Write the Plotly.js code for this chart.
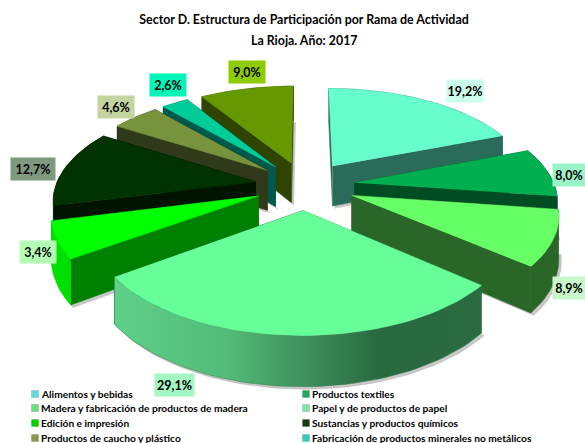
<!DOCTYPE html>
<html><head><meta charset="utf-8">
<script src="https://cdn.plot.ly/plotly-3.0.1.min.js"></script>
<style>html,body{margin:0;padding:0;background:#fff;overflow:hidden}</style>
</head><body><div id="chart" style="width:585px;height:443px"></div>
<script>
// Data. The printed label for "Edición" says 3,4 % but its slice is drawn as 5,9 % (the shares total 100).
const categories = ["Alimentos y bebidas","Productos textiles","Madera y fabricación de productos de madera","Papel y de productos de papel","Edición e impresión","Sustancias y productos químicos","Productos de caucho y plástico","Fabricación de productos minerales no metálicos","Otros"];
const drawnShares = [19.2,8.0,8.9,29.1,5.9,12.7,4.6,2.6,9.0];
const printedLabels = ["19,2%","8,0%","8,9%","29,1%","3,4%","12,7%","4,6%","2,6%","9,0%"];
const topColors  = ["#66FFCC","#00B050","#66FF66","#66FF99","#00FF00","#003300","#77933C","#00CC99","#669900"];
const wallColors = ["#2A6B59","#004D23","#2B6629","#2F7A4C","#008000","#001400","#30391A","#00594A","#2F4400"];
const arcColors  = ["#2A6B59","#004D23","#2B6629","#2F7A4C","#00E000","#001400","#30391A","#00594A","#2F4400"];
const labelBoxColors = ["#CCFFEB","#99F5C8","#C9F7C9","#A3F7C2","#B3FFB3","#7F997F","#C4D3A0","#00F5B8","#8CCC00"];
const legendColors = ["#66D9D9","#1FA85C","#66E07A","#7FE6A8","#00D000","#123D12","#8A9A4A","#33CCBB"];
const drawOrder = [8,7,6,0,5,1,4,2,3];

// Layout constants
const W=585,H=443,CX=305,CY=185.5,RX=200,RY=96,PERSP=0.16,PULL=0.25,DEPTH=41;
const labelPos=[[465,91],[569,175],[569,288],[174,385],[38,252],[33,169],[116,107],[168,85],[247,72]];
const labelSize=[[36,22],[32,22],[32,22],[39,22],[36,22],[44,22],[36,22],[36,22],[36,22]];
const legendCols=[35,306], legendRows=[394,408,423,438];

const total=drawnShares.reduce((a,b)=>a+b,0);
function proj(X,Y,drop){const p=1/(1+PERSP*Y);return [CX+RX*X*p, CY-RY*Y*p+drop*DEPTH*p];}
const deg=Math.PI/180;
let cum=0;
const slices=drawnShares.map(v=>{const a=cum/total*360;cum+=v;return {a0:a,a1:cum/total*360};});
function pts(i,drop){
  const s=slices[i],b=(s.a0+s.a1)/2*deg;
  const ox=PULL*Math.sin(b),oy=PULL*Math.cos(b);
  const arc=[];const n=Math.max(6,Math.round((s.a1-s.a0)/2));
  for(let k=0;k<=n;k++){const t=(s.a0+(s.a1-s.a0)*k/n)*deg;arc.push(proj(ox+Math.sin(t),oy+Math.cos(t),drop));}
  return {apex:proj(ox,oy,drop),arc};
}
function poly(list,extra){const dx=extra?extra[0]:0,dy=extra?extra[1]:0;return{x:list.map(p=>p&&p[0]+dx),y:list.map(p=>p&&p[1]+dy)};}
function fillTrace(list,color,name,off,more){
  const d=poly(list,off);
  return Object.assign({type:"scatter",mode:"lines",x:d.x,y:d.y,fill:"toself",fillcolor:color,line:{color:color,width:0.5},hoverinfo:"skip",showlegend:false,name:name},more||{});
}
const traces=[];
drawOrder.forEach(i=>{
  const t=pts(i,0),b=pts(i,1),name=categories[i];
  const tA=t.arc,bA=b.arc,last=tA.length-1;
  const arcWall=[...tA,...bA.slice().reverse()];
  traces.push(fillTrace([b.apex,...bA],"rgba(60,60,60,0.28)",name+" sombra",[2.5,2.5]));
  traces.push(fillTrace([t.apex,tA[0],bA[0],b.apex],wallColors[i],name+" pared"));
  traces.push(fillTrace([t.apex,tA[last],bA[last],b.apex],wallColors[i],name+" pared"));
  const more = i===3 ? {fillgradient:{type:"horizontal",start:117,stop:482,colorscale:[[0,"#5ED088"],[0.3,"#52BC78"],[0.55,"#3A8A58"],[0.72,"#28693F"],[1,"#2A6B42"]]}} : null;
  traces.push(fillTrace(arcWall,arcColors[i],name+" borde",null,more));
  traces.push(fillTrace([t.apex,...tA],topColors[i],name));
});
// legend swatches
const lx=[],ly=[];
legendColors.forEach((c,i)=>{lx.push(legendCols[i%2]);ly.push(legendRows[Math.floor(i/2)]);});
traces.push({type:"scatter",mode:"markers",x:lx,y:ly,marker:{symbol:"square",size:7,color:legendColors,line:{width:0.5,color:"rgba(0,0,0,0.25)"}},hoverinfo:"skip",showlegend:false,cliponaxis:false});

const annotations=[];
printedLabels.forEach((t,i)=>annotations.push({text:"<b>"+t+"</b>",x:labelPos[i][0],y:labelPos[i][1],xref:"x",yref:"y",showarrow:false,bgcolor:labelBoxColors[i],width:labelSize[i][0],height:labelSize[i][1],align:"center",valign:"middle",borderpad:0,font:{family:"Lato",size:12.5,color:"#000"}}));
legendColors.forEach((c,i)=>annotations.push({text:"<b>"+categories[i]+"</b>",x:lx[i]+4.5,y:ly[i],xref:"x",yref:"y",xanchor:"left",yanchor:"middle",showarrow:false,align:"left",borderpad:0,font:{family:"Lato",size:10.2,color:"#000"}}));
annotations.push({text:"<b>La Rioja. Año: 2017</b>",x:304,y:40,xref:"x",yref:"y",showarrow:false,font:{family:"Lato",size:12.4,color:"#000"}});

Plotly.newPlot("chart",traces,{
  width:W,height:H,margin:{l:0,r:0,t:0,b:0},paper_bgcolor:"#fff",plot_bgcolor:"#fff",showlegend:false,
  title:{text:"<b>Sector D. Estructura de Participación por Rama de Actividad</b>",x:304/W,xanchor:"center",y:1-20/H,yanchor:"middle",font:{family:"Lato",size:12.4,color:"#000"}},
  xaxis:{range:[0,W],visible:false,fixedrange:true},
  yaxis:{range:[H,0],visible:false,fixedrange:true},
  annotations
},{displayModeBar:false,staticPlot:true});
</script></body></html>
